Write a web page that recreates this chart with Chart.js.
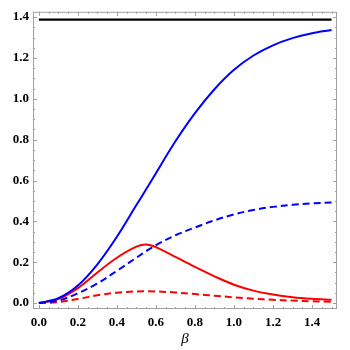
<!DOCTYPE html>
<html><head><meta charset="utf-8">
<script src="https://cdn.jsdelivr.net/npm/chart.js@4/dist/chart.umd.min.js"></script>
<style>html,body{margin:0;padding:0;background:#fff}#wrap{width:350px;height:350px}</style>
</head><body><div id="wrap"><canvas id="c" width="350" height="350"></canvas></div>
<script>
const betaValues = [0,0.1,0.2,0.3,0.4,0.5,0.55,0.6,0.7,0.8,0.9,1.0,1.1,1.2,1.3,1.4,1.5];
const blackLine  = [1.388,1.388,1.388,1.388,1.388,1.388,1.388,1.388,1.388,1.388,1.388,1.388,1.388,1.388,1.388,1.388,1.388];
const blueSolid  = [0,0.024,0.086,0.19,0.325,0.48,0.557,0.636,0.792,0.93,1.047,1.142,1.212,1.262,1.297,1.321,1.337];
const blueDashed = [0,0.012,0.048,0.096,0.158,0.222,0.254,0.284,0.332,0.37,0.405,0.434,0.456,0.471,0.481,0.488,0.492];
const redSolid   = [0,0.02,0.073,0.15,0.222,0.276,0.287,0.274,0.226,0.177,0.131,0.09,0.061,0.042,0.029,0.021,0.016];
const redDashed  = [0,0.005,0.02,0.038,0.051,0.057,0.058,0.057,0.052,0.044,0.036,0.028,0.021,0.016,0.012,0.009,0.007];
const xTicks = [0,0.2,0.4,0.6,0.8,1.0,1.2,1.4];
const yTicks = [0,0.2,0.4,0.6,0.8,1.0,1.2,1.4];

const pts = arr => betaValues.map((b,i)=>({x:b,y:arr[i]}));
const ds = (arr,color,dash,w)=>({data:pts(arr),borderColor:color,borderWidth:w||2,borderDash:dash||[],pointRadius:0,fill:false,tension:0.35});

const framePlugin = {
  id:'frame',
  afterDatasetsDraw(chart){
    const {ctx,chartArea:a,scales:{x,y}} = chart;
    ctx.save();
    ctx.strokeStyle='#a0a0a0';
    ctx.lineWidth=1;
    ctx.strokeRect(a.left+0.5,a.top+0.5,a.right-a.left-1,a.bottom-a.top-1);
    ctx.beginPath();
    for(let i=0;i<=30;i++){
      const v=i*0.05; const major = i%4===0;
      const len = major?4:2;
      const px=Math.round(x.getPixelForValue(v))+0.5;
      if(px>a.right) continue;
      ctx.moveTo(px,a.bottom);ctx.lineTo(px,a.bottom-len);
      ctx.moveTo(px,a.top);ctx.lineTo(px,a.top+len);
    }
    for(let i=0;i<=28;i++){
      const v=i*0.05; const major=i%4===0;
      const len=major?4:2;
      const py=Math.round(y.getPixelForValue(v))+0.5;
      if(py<a.top) continue;
      ctx.moveTo(a.left,py);ctx.lineTo(a.left+len,py);
      ctx.moveTo(a.right,py);ctx.lineTo(a.right-len,py);
    }
    ctx.stroke();
    ctx.restore();
  }
};

new Chart(document.getElementById('c'),{
  type:'line',
  data:{datasets:[
    ds(blackLine,'#000000',[],2.2),
    ds(blueSolid,'#0000ff'),
    ds(blueDashed,'#0000ff',[7,4]),
    ds(redSolid,'#ff0000'),
    ds(redDashed,'#ff0000',[7,4])
  ]},
  options:{
    responsive:false,animation:false,
    layout:{padding:{top:5,right:13,left:0,bottom:0}},
    plugins:{legend:{display:false},tooltip:{enabled:false}},
    scales:{
      x:{type:'linear',min:-0.03,max:1.528,
        grid:{display:false,drawTicks:false},border:{display:false},
        afterBuildTicks:s=>{s.ticks=xTicks.map(v=>({value:v}));},
        afterFit:s=>{s.height=41;},
        ticks:{padding:6,color:'#000',font:{family:'Liberation Serif',weight:'bold',size:13},callback:v=>Number(v).toFixed(1)},
        title:{display:true,text:'β',color:'#000',font:{family:'Liberation Serif',style:'italic',size:15},padding:{top:0,bottom:2}}
      },
      y:{type:'linear',min:-0.029,max:1.426,
        grid:{display:false,drawTicks:false},border:{display:false},
        afterBuildTicks:s=>{s.ticks=yTicks.map(v=>({value:v}));},
        afterFit:s=>{s.width=33;},
        ticks:{padding:4,color:'#000',font:{family:'Liberation Serif',weight:'bold',size:13},callback:v=>Number(v).toFixed(1)}
      }
    }
  },
  plugins:[framePlugin]
});
</script>
</body></html>
